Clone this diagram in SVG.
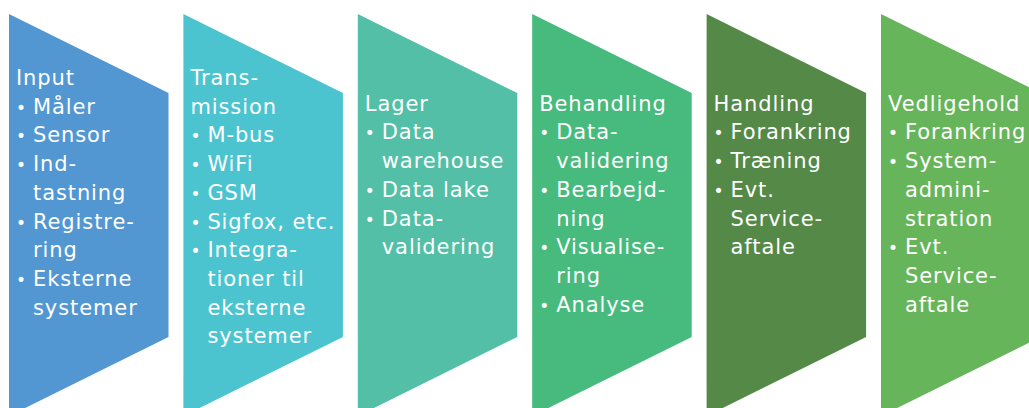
<svg xmlns="http://www.w3.org/2000/svg" xmlns:xlink="http://www.w3.org/1999/xlink" width="1029" height="408" viewBox="0 0 1029 408">
  <style>
    .lbl { font-family: "DejaVu Sans", "Liberation Sans", sans-serif; font-size: 21px; letter-spacing: 0.9px; fill: #ffffff; }
    .dot { font-size: 17px; letter-spacing: 0; }
  </style>
  <defs>
    <!-- chevron step: flat left side, sloped top and bottom, short right side -->
    <path id="chev" d="M0 14 L159.5 93 L159.5 337 L0 416 Z"/>
  </defs>
  <rect width="1029" height="408" fill="#ffffff"/>

  <g id="step-input">
    <use xlink:href="#chev" x="9" fill="#5296D2"/>
    <text class="lbl">
      <tspan x="16" y="85">Input</tspan>
      <tspan class="dot" x="16" y="113.7">•</tspan><tspan x="33" y="113.7">Måler</tspan>
      <tspan class="dot" x="16" y="142.4">•</tspan><tspan x="33" y="142.4">Sensor</tspan>
      <tspan class="dot" x="16" y="171.1">•</tspan><tspan x="33" y="171.1">Ind-</tspan>
      <tspan x="33" y="199.8">tastning</tspan>
      <tspan class="dot" x="16" y="228.5">•</tspan><tspan x="33" y="228.5">Registre-</tspan>
      <tspan x="33" y="257.2">ring</tspan>
      <tspan class="dot" x="16" y="285.9">•</tspan><tspan x="33" y="285.9">Eksterne</tspan>
      <tspan x="33" y="314.6">systemer</tspan>
    </text>
  </g>

  <g id="step-transmission">
    <use xlink:href="#chev" x="183.4" fill="#4BC4CF"/>
    <text class="lbl">
      <tspan x="190.4" y="85">Trans-</tspan>
      <tspan x="190.4" y="113.7">mission</tspan>
      <tspan class="dot" x="190.4" y="142.4">•</tspan><tspan x="207.4" y="142.4">M-bus</tspan>
      <tspan class="dot" x="190.4" y="171.1">•</tspan><tspan x="207.4" y="171.1">WiFi</tspan>
      <tspan class="dot" x="190.4" y="199.8">•</tspan><tspan x="207.4" y="199.8">GSM</tspan>
      <tspan class="dot" x="190.4" y="228.5">•</tspan><tspan x="207.4" y="228.5">Sigfox, etc.</tspan>
      <tspan class="dot" x="190.4" y="257.2">•</tspan><tspan x="207.4" y="257.2">Integra-</tspan>
      <tspan x="207.4" y="285.9">tioner til</tspan>
      <tspan x="207.4" y="314.6">eksterne</tspan>
      <tspan x="207.4" y="343.3">systemer</tspan>
    </text>
  </g>

  <g id="step-lager">
    <use xlink:href="#chev" x="357.8" fill="#52BFA6"/>
    <text class="lbl">
      <tspan x="364.8" y="110.7">Lager</tspan>
      <tspan class="dot" x="364.8" y="139.4">•</tspan><tspan x="381.8" y="139.4">Data</tspan>
      <tspan x="381.8" y="168.1">warehouse</tspan>
      <tspan class="dot" x="364.8" y="196.8">•</tspan><tspan x="381.8" y="196.8">Data lake</tspan>
      <tspan class="dot" x="364.8" y="225.5">•</tspan><tspan x="381.8" y="225.5">Data-</tspan>
      <tspan x="381.8" y="254.2">validering</tspan>
    </text>
  </g>

  <g id="step-behandling">
    <use xlink:href="#chev" x="532.2" fill="#47BA7E"/>
    <text class="lbl">
      <tspan x="539.2" y="110.7">Behandling</tspan>
      <tspan class="dot" x="539.2" y="139.4">•</tspan><tspan x="556.2" y="139.4">Data-</tspan>
      <tspan x="556.2" y="168.1">validering</tspan>
      <tspan class="dot" x="539.2" y="196.8">•</tspan><tspan x="556.2" y="196.8">Bearbejd-</tspan>
      <tspan x="556.2" y="225.5">ning</tspan>
      <tspan class="dot" x="539.2" y="254.2">•</tspan><tspan x="556.2" y="254.2">Visualise-</tspan>
      <tspan x="556.2" y="282.9">ring</tspan>
      <tspan class="dot" x="539.2" y="311.6">•</tspan><tspan x="556.2" y="311.6">Analyse</tspan>
    </text>
  </g>

  <g id="step-handling">
    <use xlink:href="#chev" x="706.6" fill="#548947"/>
    <text class="lbl">
      <tspan x="713.6" y="110.7">Handling</tspan>
      <tspan class="dot" x="713.6" y="139.4">•</tspan><tspan x="730.6" y="139.4">Forankring</tspan>
      <tspan class="dot" x="713.6" y="168.1">•</tspan><tspan x="730.6" y="168.1">Træning</tspan>
      <tspan class="dot" x="713.6" y="196.8">•</tspan><tspan x="730.6" y="196.8">Evt.</tspan>
      <tspan x="730.6" y="225.5">Service-</tspan>
      <tspan x="730.6" y="254.2">aftale</tspan>
    </text>
  </g>

  <g id="step-vedligehold">
    <use xlink:href="#chev" x="881" fill="#67B55B"/>
    <text class="lbl">
      <tspan x="888" y="110.7">Vedligehold</tspan>
      <tspan class="dot" x="888" y="139.4">•</tspan><tspan x="905" y="139.4">Forankring</tspan>
      <tspan class="dot" x="888" y="168.1">•</tspan><tspan x="905" y="168.1">System-</tspan>
      <tspan x="905" y="196.8">admini-</tspan>
      <tspan x="905" y="225.5">stration</tspan>
      <tspan class="dot" x="888" y="254.2">•</tspan><tspan x="905" y="254.2">Evt.</tspan>
      <tspan x="905" y="282.9">Service-</tspan>
      <tspan x="905" y="311.6">aftale</tspan>
    </text>
  </g>
</svg>
